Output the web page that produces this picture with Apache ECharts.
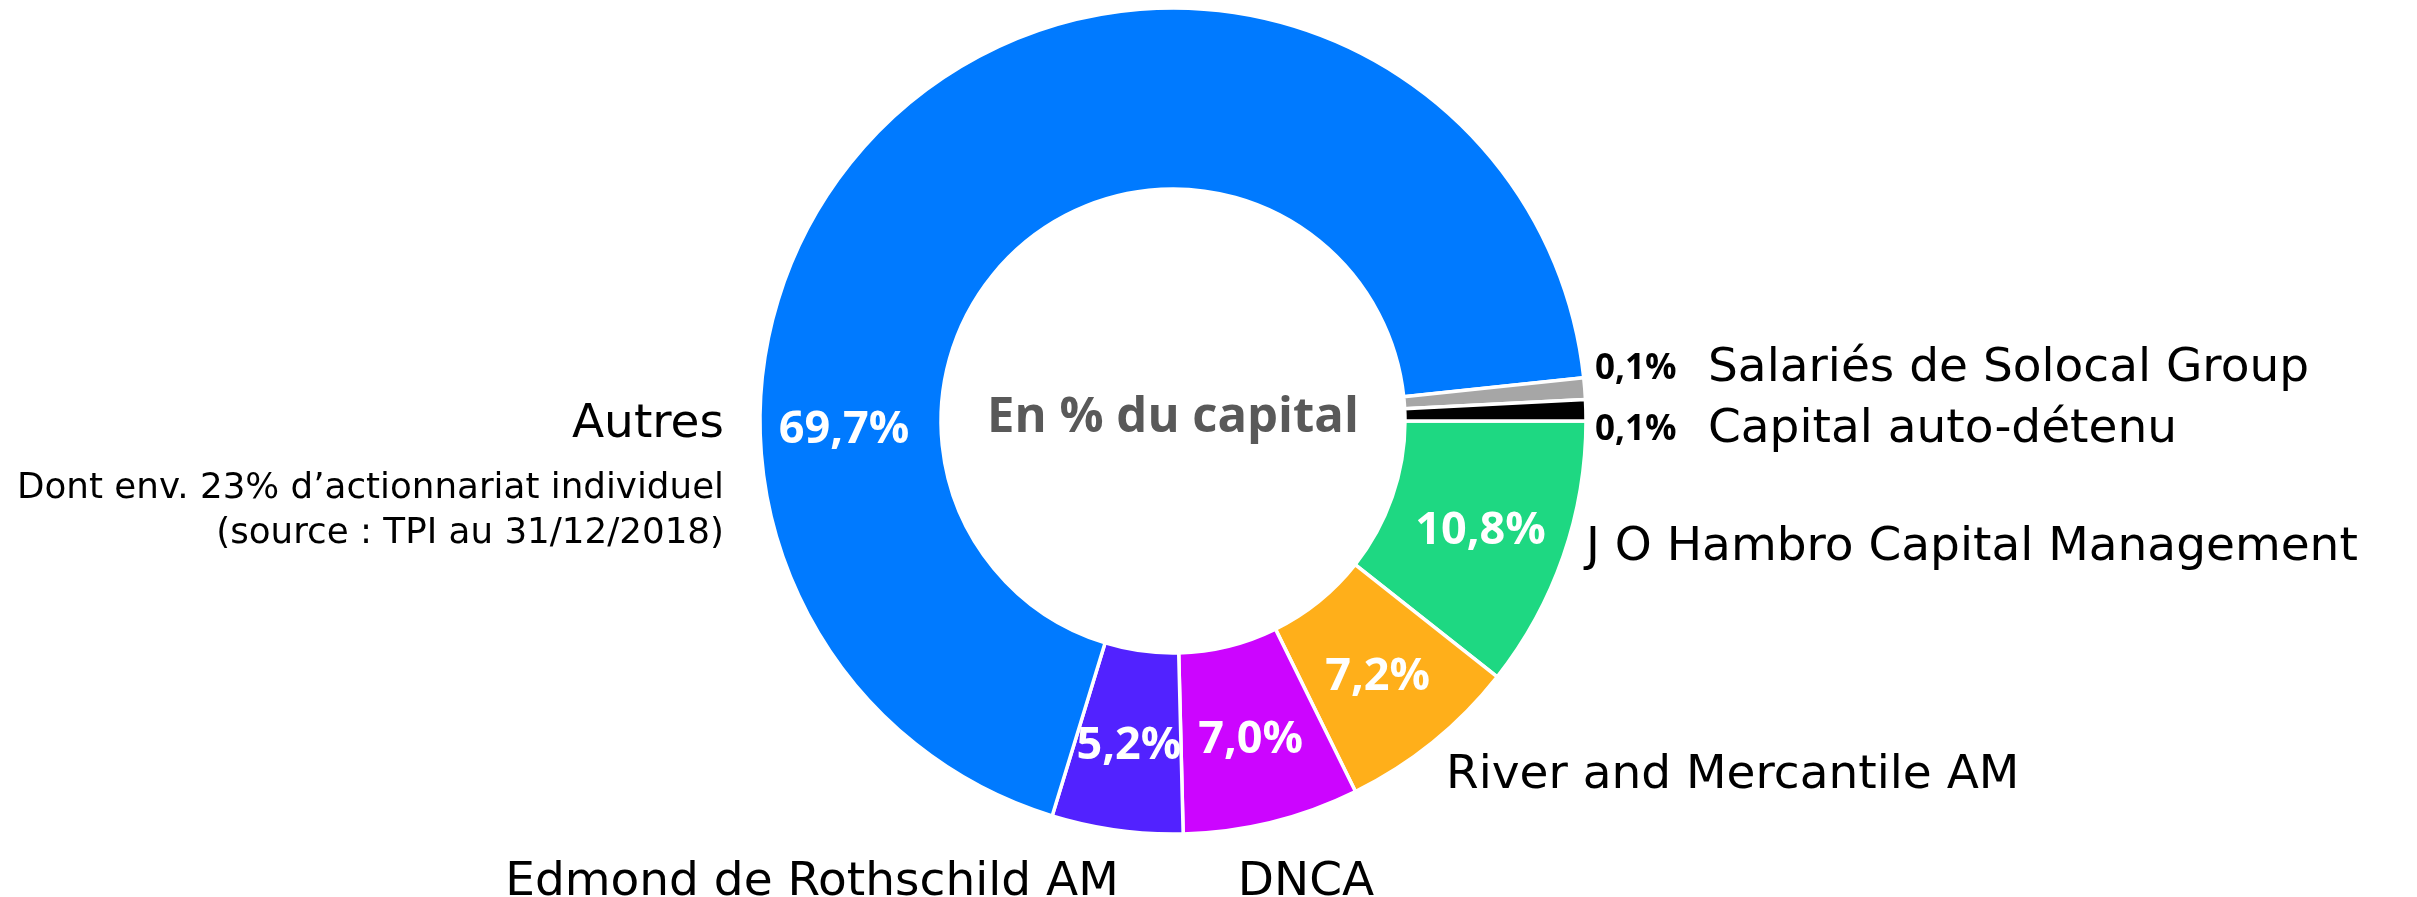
<!DOCTYPE html>
<html>
<head>
<meta charset="utf-8">
<script src="https://cdn.jsdelivr.net/npm/echarts@6/dist/echarts.min.js"></script>
<style>
  html, body { margin: 0; padding: 0; background: #ffffff; }
  #chart { width: 2417px; height: 897px; }
</style>
</head>
<body>
<div id="chart"></div>
<script>
// ---- Data ----
const categories = [
  'J O Hambro Capital Management',
  'River and Mercantile AM',
  'DNCA',
  'Edmond de Rothschild AM',
  'Autres',
  'Salariés de Solocal Group',
  'Capital auto-détenu'
];
const values = [10.8, 7.2, 7.0, 5.2, 69.7, 0.1, 0.1];
const colors = ['#1ED882', '#FFAF1A', '#CC05FF', '#5222FF', '#007AFF', '#A6A6A6', '#000000'];
const autresNote = ['Dont env. 23% d’actionnariat individuel', '(source : TPI au 31/12/2018)'];
const centerTitle = 'En % du capital';

// ---- Layout (positions / styles only) ----
const CX = 1173, CY = 421, R0 = 232, R1 = 413;
const SMALL = 1; // slices below this show their % beside the name
// name label anchor per category index: [x, y, align, verticalAlign]
const namePos = [
  [1586, 548, 'left', 'middle'],
  [1446, 776, 'left', 'middle'],
  [1306, 883, 'center', 'middle'],
  [812, 883, 'center', 'middle'],
  [724, 383, 'right', 'top'],
  [1595, 369, 'left', 'middle'],
  [1595, 430, 'left', 'middle']
];

const fmt = v => v.toFixed(1).replace('.', ',') + '%';

const chart = echarts.init(document.getElementById('chart'), null, { renderer: 'canvas' });

const sectorData = categories.map((name, i) => ({
  name: name,
  value: values[i],
  itemStyle: { color: colors[i] },
  label: { show: values[i] >= SMALL }
}));

const nameData = categories.map((name, i) => ({ name: name, value: values[i] }));

const common = {
  type: 'pie',
  center: [CX, CY],
  radius: [R0, R1],
  startAngle: 0,
  clockwise: true,
  minAngle: 3,
  avoidLabelOverlap: false,
  labelLine: { show: false },
  emphasis: { disabled: true },
  animation: false
};

chart.setOption({
  backgroundColor: '#ffffff',
  animation: false,
  graphic: [{
    type: 'text',
    x: CX,
    y: 418,
    style: {
      text: centerTitle,
      align: 'center',
      verticalAlign: 'middle',
      textAlign: 'center',
      textVerticalAlign: 'middle',
      fontFamily: 'Open Sans',
      fontWeight: 'bold',
      fontSize: 49,
      fill: '#595959'
    }
  }],
  series: [
    Object.assign({}, common, {
      name: 'capital',
      itemStyle: { borderColor: '#ffffff', borderWidth: 3.5 },
      label: {
        position: 'inside',
        formatter: p => fmt(p.value),
        color: '#ffffff',
        fontFamily: 'Open Sans',
        fontWeight: 'bold',
        fontSize: 45
      },
      labelLayout: function (p) {
        if (categories[p.dataIndex] === 'Autres') {
          return { x: CX - 329, y: CY + 9, align: 'center', verticalAlign: 'middle' };
        }
        return { dy: 3 };
      },
      data: sectorData
    }),
    Object.assign({}, common, {
      name: 'names',
      silent: true,
      z: 3,
      itemStyle: { color: 'rgba(0,0,0,0)', borderWidth: 0 },
      label: {
        show: true,
        position: 'outside',
        color: '#000000',
        fontFamily: 'DejaVu Sans',
        fontSize: 47,
        formatter: function (p) {
          const i = p.dataIndex;
          if (categories[i] === 'Autres') {
            return '{a|' + categories[i] + '}\n' + autresNote.map(t => '{s|' + t + '}').join('\n');
          }
          if (values[i] < SMALL) {
            return '{p|' + fmt(values[i]) + '}{n|' + categories[i] + '}';
          }
          return '{n|' + categories[i] + '}';
        },
        rich: {
          a: { fontFamily: 'DejaVu Sans', fontSize: 47, lineHeight: 83, color: '#000' },
          s: { fontFamily: 'DejaVu Sans', fontSize: 35.7, lineHeight: 45, color: '#000' },
          n: { fontFamily: 'DejaVu Sans', fontSize: 47, color: '#000' },
          p: { fontFamily: 'Open Sans', fontWeight: 'bold', fontSize: 35, width: 113, color: '#000' }
        }
      },
      labelLayout: function (p) {
        const pos = namePos[p.dataIndex];
        return { x: pos[0], y: pos[1], align: pos[2], verticalAlign: pos[3] };
      },
      data: nameData
    })
  ]
});
</script>
</body>
</html>
